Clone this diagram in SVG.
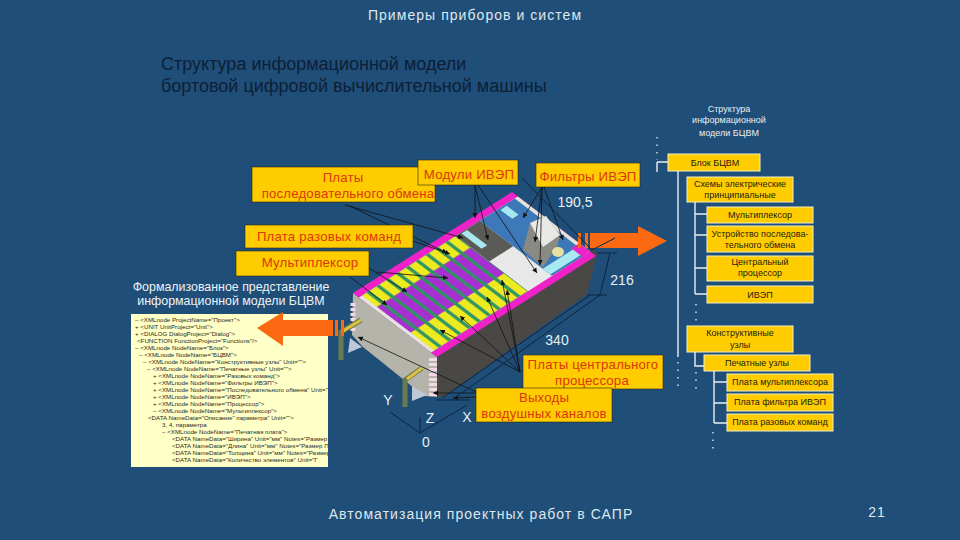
<svg xmlns="http://www.w3.org/2000/svg" width="960" height="540" viewBox="0 0 960 540">
<style>
text{font-family:"Liberation Sans",Arial,sans-serif}
.h{font-size:14px;fill:#dfe7ec;letter-spacing:1.05px;text-anchor:middle}
.t{font-size:18px;fill:#0e2036}
.f{font-size:12.4px;fill:#eef3f5;text-anchor:middle}
.w{font-size:14px;fill:#e8f0f4;text-anchor:middle}
.lb{fill:#ffcc00;stroke:#2a2a10;stroke-width:.6}
.lt{font-size:13.2px;fill:#d8380c;text-anchor:middle;letter-spacing:.2px}
.tb{fill:#ffcc00;stroke:#f4efc0;stroke-width:1}
.tt{font-size:9px;fill:#1c1c10;text-anchor:middle}
.tw{font-size:9px;fill:#e8eef2;text-anchor:middle}
.x{font-size:6.2px;fill:#2a2a20}
.tr{stroke:#e8eef2;stroke-width:1.4;fill:none}
.dot{stroke:#dfe8ee;stroke-width:1.4;stroke-dasharray:1.5 6;fill:none}
.ld{stroke:#111;stroke-width:.8;fill:none;marker-end:url(#a)}
.dm{stroke:#0c2440;stroke-width:1;fill:none}
</style>
<defs>
<marker id="a" markerUnits="userSpaceOnUse" markerWidth="6" markerHeight="6" refX="5" refY="2.5" orient="auto"><path d="M0 0L5 2.5L0 5z" fill="#111"/></marker>
<pattern id="bd" patternUnits="userSpaceOnUse" width="6.2" height="100">
<rect width="6.2" height="100" fill="#2f8f7c"/>
<rect x=".4" y="7" width="4.4" height="18" fill="#eeea20"/>
<rect x=".4" y="25" width="4.4" height="40" fill="#a82fd0"/>
<rect x=".4" y="65" width="4.4" height="28" fill="#eeea20"/>
<rect x="5" width=".8" height="100" fill="#2c9a4a"/>
</pattern>
<clipPath id="xc"><rect x="131" y="314" width="197" height="153"/></clipPath>
</defs>
<rect width="960" height="540" fill="#1f4e79"/>
<text class="h" x="475" y="20">Примеры приборов и систем</text>
<text class="t" x="161" y="70">Структура информационной модели</text>
<text class="t" x="161" y="92">бортовой цифровой вычислительной машины</text>
<g id="xml-panel">
<rect x="131" y="314" width="197" height="153" fill="#ffffc8"/>
<g clip-path="url(#xc)">
<text class="x" x="135" y="322">– &lt;XMLnode ProjectName="Проект"&gt;</text>
<text class="x" x="135" y="329">+ &lt;UNIT UnitProject="Unit"&gt;</text>
<text class="x" x="135" y="336">+ &lt;DIALOG DialogProject="Dialog"&gt;</text>
<text class="x" x="137" y="343">&lt;FUNCTION FunctionProject="Functions"/&gt;</text>
<text class="x" x="135" y="350">– &lt;XMLnode NodeName="Блок"&gt;</text>
<text class="x" x="139" y="357">– &lt;XMLnode NodeName="БЦВМ"&gt;</text>
<text class="x" x="143" y="364">– &lt;XMLnode NodeName="Конструктивные узлы" Unit=""&gt;</text>
<text class="x" x="147" y="371">– &lt;XMLnode NodeName="Печатные узлы" Unit=""&gt;</text>
<text class="x" x="153" y="378">+ &lt;XMLnode NodeName="Разовых команд"&gt;</text>
<text class="x" x="153" y="385">+ &lt;XMLnode NodeName="Фильтры ИВЭП"&gt;</text>
<text class="x" x="153" y="392">+ &lt;XMLnode NodeName="Последовательного обмена" Unit=""&gt;</text>
<text class="x" x="153" y="399">+ &lt;XMLnode NodeName="ИВЭП"&gt;</text>
<text class="x" x="153" y="406">+ &lt;XMLnode NodeName="Процессор"&gt;</text>
<text class="x" x="153" y="413">– &lt;XMLnode NodeName="Мультиплексор"&gt;</text>
<text class="x" x="148" y="420">&lt;DATA NameData="Описание" параметра" Unit=""&gt;</text>
<text class="x" x="162" y="427">3, 4, параметра</text>
<text class="x" x="162" y="434">– &lt;XMLnode NodeName="Печатная плата"&gt;</text>
<text class="x" x="172" y="441">&lt;DATA NameData="Ширина" Unit="мм" Notes="Размер Г</text>
<text class="x" x="172" y="448">&lt;DATA NameData="Длина" Unit="мм" Notes="Размер П</text>
<text class="x" x="172" y="455">&lt;DATA NameData="Толщина" Unit="мм" Notes="Размер</text>
<text class="x" x="172" y="462">&lt;DATA NameData="Количество элементов" Unit="Г</text>
</g>
</g>
<text class="f" x="231" y="291">Формализованное представление</text>
<text class="f" x="231" y="305">информационной модели БЦВМ</text>
<g id="device">
<path d="M353 293L437 357L437 397L424 396L363 347L352 335z" fill="#b4b4aa"/>
<path d="M437 357L593 248L597 254L587 294L444 397L437 397z" fill="#4a4844"/>
<g transform="matrix(1.59,-1.01,.84,.64,353,293)">
<rect width="100" height="100" fill="#ee22c8"/>
<rect x="0" y="7" width="100" height="86" fill="#e4e4dc"/>
<rect x="2" y="7" width="59" height="86" fill="url(#bd)"/>
<rect x="61" y="7" width="15" height="40" fill="#5a5a56"/>
<rect x="61" y="47" width="16" height="46" fill="#e8e8e8"/>
<rect x="76" y="7" width="22" height="86" fill="#3d78b8"/>
<rect x="64" y="8" width="3.5" height="24" fill="#a8e8f0"/>
<rect x="88" y="9" width="4" height="14" fill="#a8e8f0"/>
<rect x="76" y="82" width="20" height="9" fill="#a8e8f0"/>
<rect x="95" y="80" width="5" height="13" fill="#ee22c8"/>
</g>
<path d="M530 223L546 216L560 235L557 247L543 267L523 250z" fill="#8a8a84"/>
<path d="M530 223L546 216L560 235L543 247z" fill="#e8e8e4"/>
<ellipse cx="558" cy="252" rx="6" ry="5" fill="#e8e0a0"/>
<path d="M431 358V396M435 358V396" stroke="#f4d8e8" stroke-width="4" stroke-dasharray="3 2"/>
<path d="M353 303V333" stroke="#f4d8e8" stroke-width="5" stroke-dasharray="3 2"/>
<g id="bracket-left" fill="none">
<path d="M341 360V332L361 320" stroke="#6a7a50" stroke-width="5"/>
<path d="M343 331L361 320" stroke="#e0c040" stroke-width="3"/>
<path d="M350 338L362 347L348 353z" fill="#c0c8d8"/>
</g>
<g id="bracket-front" fill="none">
<path d="M405 407V380L422 368" stroke="#6a7a50" stroke-width="5"/>
<path d="M407 379L422 368" stroke="#e0c040" stroke-width="3"/>
<path d="M412 386L427 395L412 401z" fill="#c0c8d8"/>
</g>
</g>
<g id="arrow-right">
<path d="M590 233H638V226L667 241L638 256V248H590z" fill="#fb6a12"/>
<path d="M578 233h3v15h-3zM585 233h3v15h-3zM590 233h2v15h-2z" fill="#fb6a12"/>
</g>
<g id="arrow-left">
<path d="M333 320H283V312L257 328L283 346V336H333z" fill="#fb6a12"/>
<path d="M335 320h3v16h-3zM341 320h3v16h-3z" fill="#fb6a12"/>
</g>
<g id="connectors">
<path class="ld" d="M345 205L463 238"/><path class="ld" d="M350 206L447 253"/>
<path class="ld" d="M413 241L450 254"/><path class="ld" d="M377 272L448 278"/><path class="ld" d="M369 268L407 292"/>
<path class="ld" d="M350 277L387 305"/>
<path class="ld" d="M475 185V218"/><path class="ld" d="M475 185L488 240"/><path class="ld" d="M478 185L537 273"/>
<path class="ld" d="M542 187L523 218"/><path class="ld" d="M542 187L535 242"/><path class="ld" d="M542 187L540 265"/><path class="ld" d="M544 187L563 240"/>
<path class="ld" d="M520 372L507 290"/><path class="ld" d="M520 372L487 297"/><path class="ld" d="M520 372L460 316"/><path class="ld" d="M520 372L440 330"/><path class="ld" d="M520 372L502 280"/>
<path class="ld" d="M476 392L358 337"/><path class="ld" d="M476 393L433 393"/><path class="ld" d="M476 397L453 398"/>
<path class="dm" d="M592 250L522 178"/><path class="dm" d="M592 250L615 238"/>
<path class="dm" d="M597 253H617M587 295H607M610 253L600 295"/>
<path class="dm" d="M600 295L452 400M590 295L442 398M436 400H470"/>
<path class="dm" d="M420 433L390 412M420 433V417M420 433L467 405"/>
</g>
<g id="label-serial"><rect class="lb" x="252" y="167" width="183" height="35"/><text class="lt" x="343" y="182">Платы</text><text class="lt" x="348" y="198">последовательного обмена</text></g>
<g id="label-ivep"><rect class="lb" x="418" y="160" width="100" height="25"/><text class="lt" x="469" y="179">Модули ИВЭП</text></g>
<g id="label-filter"><rect class="lb" x="536" y="163" width="104" height="24"/><text class="lt" x="588" y="181">Фильтры ИВЭП</text></g>
<g id="label-single"><rect class="lb" x="245" y="225" width="168" height="23"/><text class="lt" x="329" y="241">Плата разовых команд</text></g>
<g id="label-mux"><rect class="lb" x="236" y="251" width="133" height="25"/><text class="lt" x="310" y="267">Мультиплексор</text></g>
<g id="label-cpu"><rect class="lb" x="523" y="355" width="140" height="34"/><text class="lt" x="593" y="369">Платы центрального</text><text class="lt" x="592" y="385">процессора</text></g>
<g id="label-air"><rect class="lb" x="476" y="388" width="136" height="34"/><text class="lt" x="544" y="402">Выходы</text><text class="lt" x="544" y="418">воздушных каналов</text></g>
<text class="w" x="575" y="207">190,5</text>
<text class="w" x="622" y="285">216</text>
<text class="w" x="557" y="345">340</text>
<text class="w" x="388" y="405">Y</text>
<text class="w" x="430" y="423">Z</text>
<text class="w" x="467" y="422">X</text>
<text class="w" x="426" y="447">0</text>
<g id="tree-lines">
<path class="tr" d="M657 162V172M657 162H668M678 171V357"/>
<path class="tr" d="M695 202V294M695 214H707M695 235H707M695 268H707M695 294H707"/>
<path class="tr" d="M695 352V366H704"/>
<path class="tr" d="M714 371V423M714 382H727M714 403H727M714 423H727"/>
<path class="dot" d="M657 137V160M678 362V386M696 372V392M713 432V452M696 304V326"/>
</g>
<g id="tree-title"><text class="tw" x="729" y="112">Структура</text><text class="tw" x="729" y="123">информационной</text><text class="tw" x="729" y="136">модели БЦВМ</text></g>
<g id="n1"><rect class="tb" x="668" y="154" width="92" height="17"/><text class="tt" x="715" y="166">Блок БЦВМ</text></g>
<g id="n2"><rect class="tb" x="687" y="177" width="106" height="25"/><text class="tt" x="740" y="187">Схемы электрические</text><text class="tt" x="740" y="198">принципиальные</text></g>
<g id="n3"><rect class="tb" x="707" y="207" width="106" height="16"/><text class="tt" x="760" y="218">Мультиплексор</text></g>
<g id="n4"><rect class="tb" x="707" y="226" width="106" height="26"/><text class="tt" x="760" y="237">Устройство последова-</text><text class="tt" x="760" y="248">тельного обмена</text></g>
<g id="n5"><rect class="tb" x="707" y="256" width="106" height="25"/><text class="tt" x="760" y="265">Центральный</text><text class="tt" x="760" y="276">процессор</text></g>
<g id="n6"><rect class="tb" x="707" y="286" width="106" height="17"/><text class="tt" x="760" y="298">ИВЭП</text></g>
<g id="n7"><rect class="tb" x="687" y="326" width="106" height="26"/><text class="tt" x="740" y="336">Конструктивные</text><text class="tt" x="740" y="348">узлы</text></g>
<g id="n8"><rect class="tb" x="704" y="355" width="106" height="16"/><text class="tt" x="757" y="366">Печатные узлы</text></g>
<g id="n9"><rect class="tb" x="727" y="374" width="106" height="17"/><text class="tt" x="780" y="385">Плата мультиплексора</text></g>
<g id="n10"><rect class="tb" x="727" y="394" width="106" height="17"/><text class="tt" x="780" y="405">Плата фильтра ИВЭП</text></g>
<g id="n11"><rect class="tb" x="727" y="414" width="106" height="17"/><text class="tt" x="780" y="425">Плата разовых команд</text></g>
<text class="h" x="481" y="519">Автоматизация проектных работ в САПР</text>
<text class="h" x="877" y="517">21</text>
</svg>
